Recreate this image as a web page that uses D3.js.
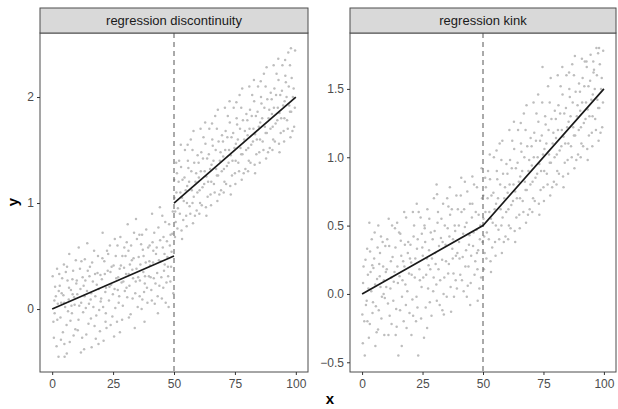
<!DOCTYPE html>
<html>
<head>
<meta charset="utf-8">
<script src="https://d3js.org/d3.v7.min.js"></script>
<style>
  body { margin: 0; background: #fff; }
  svg text { font-family: "Liberation Sans", Arial, sans-serif; }
</style>
</head>
<body>
<svg width="618" height="409"></svg>
<script>
// Facet titles
var panelTitles = ["regression discontinuity", "regression kink"];

// Tick labels
var xTicks = [0, 25, 50, 75, 100];
var yTicksRD = [0, 1, 2];
var yTicksKink = [-0.5, 0, 0.5, 1, 1.5];

// Cutoff
var cutoff = 50;

// Fitted lines (x, y)
var fitRD = [
    [[0, 0], [50, 0.5]],
    [[50, 1], [100, 2]]
];
var fitKink = [
    [[0, 0], [50, 0.5], [100, 1.5]]
];

// Scatter points, regression discontinuity (x, y)
var pointsRD = [
[0.5,-0.12],[1.2,0.21],[1.8,-0.35],[2.3,0.05],[2.9,0.33],[3.4,-0.08],[3.9,0.15],[4.4,-0.22],[4.8,0.42],[5.3,0.02],[5.9,-0.15],[6.3,0.27],[6.8,0.09],[7.2,-0.31],[7.7,0.18],[8.1,-0.04],[8.6,0.36],[9.0,0.11],[9.5,-0.19],[9.9,0.24],[0.9,0.08],[2.6,-0.45],[4.1,0.29],[6.0,-0.42],[7.9,0.03],
[10.3,0.14],[10.8,-0.1],[11.4,0.38],[11.9,0.06],[12.3,-0.27],[12.9,0.22],[13.4,0.47],[13.8,0.01],[14.3,0.17],[14.9,-0.14],[15.3,0.31],[15.8,0.09],[16.2,-0.36],[16.7,0.26],[17.2,0.55],[17.7,0.12],[18.1,-0.06],[18.6,0.34],[19.1,0.19],[19.6,-0.21],[11.1,0.03],[13.1,-0.38],[15.5,0.4],[17.9,-0.28],[19.9,0.07],
[20.4,0.28],[20.9,0.02],[21.4,0.45],[21.8,0.16],[22.3,-0.18],[22.8,0.36],[23.3,0.08],[23.7,0.6],[24.2,0.23],[24.7,-0.07],[25.2,0.41],[25.6,0.19],[26.1,0.5],[26.6,-0.12],[27.1,0.3],[27.5,0.12],[28.0,0.68],[28.5,0.25],[29.0,0.03],[29.5,0.39],[21.1,-0.3],[23.0,0.52],[25.9,0.01],[27.8,-0.22],[29.8,0.17],
[30.3,0.33],[30.8,0.11],[31.3,0.55],[31.7,0.22],[32.2,-0.05],[32.7,0.46],[33.2,0.29],[33.6,0.72],[34.1,0.15],[34.6,0.38],[35.1,0.02],[35.5,0.49],[36.0,0.27],[36.5,0.61],[37.0,0.09],[37.4,0.35],[37.9,-0.12],[38.4,0.44],[38.9,0.2],[39.4,0.58],[31.0,0.8],[33.9,-0.18],[35.8,0.7],[37.7,0.16],[39.7,0.31],
[40.2,0.41],[40.7,0.18],[41.2,0.63],[41.7,0.29],[42.1,0.05],[42.6,0.52],[43.1,0.34],[43.6,0.77],[44.0,0.22],[44.5,0.45],[45.0,0.1],[45.4,0.58],[45.9,0.36],[46.4,0.82],[46.9,0.25],[47.3,0.49],[47.8,0.02],[48.3,0.6],[48.8,0.4],[49.3,0.71],[41.0,0.9],[43.4,-0.04],[45.7,0.68],[47.6,0.31],[49.7,0.15],
[50.2,1.05],[50.7,0.82],[51.2,1.28],[51.6,0.95],[52.1,1.4],[52.6,1.1],[53.1,0.74],[53.5,1.22],[54.0,1.02],[54.5,1.5],[55.0,0.88],[55.4,1.16],[55.9,1.33],[56.4,0.97],[56.9,1.6],[57.3,1.12],[57.8,0.81],[58.3,1.38],[58.8,1.2],[59.3,0.93],[50.9,1.38],[53.3,0.66],[55.6,1.55],[57.6,1.0],[59.7,1.45],
[60.2,1.24],[60.7,1.0],[61.2,1.48],[61.7,1.15],[62.1,1.62],[62.6,1.3],[63.1,0.96],[63.6,1.42],[64.0,1.2],[64.5,1.7],[65.0,1.08],[65.4,1.36],[65.9,1.54],[66.4,1.18],[66.9,1.82],[67.3,1.32],[67.8,1.02],[68.3,1.58],[68.8,1.4],[69.3,1.12],[60.9,1.7],[63.3,0.88],[65.6,1.75],[67.6,1.26],[69.7,1.64],
[70.2,1.44],[70.7,1.2],[71.2,1.68],[71.7,1.35],[72.1,1.82],[72.6,1.5],[73.1,1.16],[73.6,1.62],[74.0,1.4],[74.5,1.9],[75.0,1.28],[75.4,1.56],[75.9,1.74],[76.4,1.38],[76.9,2.02],[77.3,1.52],[77.8,1.22],[78.3,1.78],[78.8,1.6],[79.3,1.32],[70.9,1.9],[73.3,1.08],[75.6,1.95],[77.6,1.46],[79.7,1.84],
[80.2,1.64],[80.7,1.4],[81.2,1.88],[81.7,1.55],[82.1,2.02],[82.6,1.7],[83.1,1.36],[83.6,1.82],[84.0,1.6],[84.5,2.1],[85.0,1.48],[85.4,1.76],[85.9,1.94],[86.4,1.58],[86.9,2.22],[87.3,1.72],[87.8,1.42],[88.3,1.98],[88.8,1.8],[89.3,1.52],[80.9,2.1],[83.3,1.28],[85.6,2.15],[87.6,1.66],[89.7,2.04],
[90.2,1.84],[90.7,1.6],[91.2,2.08],[91.7,1.75],[92.1,2.22],[92.6,1.9],[93.1,1.56],[93.6,2.02],[94.0,1.8],[94.5,2.3],[95.0,1.68],[95.4,1.96],[95.9,2.14],[96.4,1.78],[96.9,2.42],[97.3,1.92],[97.8,1.62],[98.3,2.18],[98.8,2.0],[99.3,1.72],[90.9,2.3],[93.3,1.48],[95.6,2.35],[97.6,1.86],[99.7,2.44],
[0.2,0.31],[0.7,-0.27],[1.5,0.12],[2.0,0.38],[2.1,-0.1],[3.1,0.22],[3.6,-0.29],[3.7,0.06],[4.6,0.13],[5.0,-0.33],[5.6,0.35],[6.5,-0.02],[6.9,0.2],[7.5,-0.11],[8.3,0.28],[8.8,-0.25],[9.2,0.04],[9.7,0.46],[1.0,-0.04],[2.7,0.17],[4.9,0.06],[6.1,0.4],[8.4,0.14],[5.1,-0.45],[7.0,0.52],
[10.1,0.27],[10.5,-0.2],[11.6,0.19],[12.0,0.45],[12.7,-0.03],[13.3,0.12],[14.0,-0.24],[14.6,0.36],[15.1,0.05],[15.9,-0.09],[16.4,0.44],[16.9,0.02],[17.4,-0.16],[18.3,0.23],[18.8,0.5],[19.3,-0.01],[19.8,0.32],[10.9,0.58],[12.5,0.3],[14.4,0.62],[16.0,0.15],[17.6,0.33],[19.0,-0.33],[13.6,0.27],[11.8,-0.41],
[20.1,0.1],[20.6,0.48],[21.6,0.33],[22.0,-0.04],[22.5,0.55],[23.5,0.21],[24.0,-0.15],[24.4,0.4],[24.9,0.14],[25.4,-0.26],[26.3,0.29],[26.8,0.6],[27.3,0.06],[28.2,0.41],[28.7,-0.1],[29.2,0.26],[29.6,0.58],[20.7,0.72],[22.1,0.2],[23.9,0.35],[25.7,0.66],[26.9,0.18],[28.8,0.5],[21.9,-0.12],[27.7,0.38],
[30.1,0.5],[30.5,0.2],[31.5,-0.08],[31.9,0.42],[32.4,0.6],[33.0,0.1],[33.4,0.48],[34.3,0.26],[34.8,0.66],[35.3,0.3],[35.9,0.12],[36.2,0.42],[36.7,0.0],[37.2,0.56],[38.1,0.31],[38.6,0.75],[39.1,0.06],[39.9,0.45],[30.6,0.63],[32.9,0.37],[34.4,0.85],[36.9,0.7],[38.0,0.24],[31.4,0.33],[37.5,0.5],
[40.0,0.6],[40.4,0.3],[40.9,0.08],[41.4,0.44],[41.9,0.72],[42.4,0.24],[42.9,0.58],[43.3,0.12],[43.8,0.46],[44.3,0.65],[44.8,0.3],[45.2,0.88],[45.6,0.2],[46.1,0.52],[46.6,0.06],[47.1,0.64],[47.5,0.4],[48.0,0.8],[48.5,0.26],[49.0,0.54],[49.5,0.92],[41.5,0.55],[44.2,0.96],[46.2,0.42],[48.6,0.7],
[50.1,1.22],[50.5,0.92],[51.0,1.1],[51.4,0.76],[51.9,1.2],[52.4,0.9],[52.9,1.34],[53.3,1.05],[53.8,0.84],[54.3,1.24],[54.8,1.12],[55.2,0.78],[55.7,1.4],[56.2,1.2],[56.7,0.9],[57.1,1.3],[57.6,1.5],[58.1,1.06],[58.6,0.88],[59.1,1.28],[59.6,1.1],[50.4,0.68],[52.8,1.55],[55.3,1.0],[58.0,1.68],
[60.1,1.38],[60.5,1.12],[61.0,1.3],[61.4,0.98],[61.9,1.42],[62.4,1.18],[62.9,1.56],[63.3,1.25],[63.8,1.06],[64.3,1.46],[64.8,1.32],[65.2,0.98],[65.7,1.6],[66.2,1.4],[66.7,1.1],[67.1,1.5],[67.6,1.7],[68.1,1.26],[68.6,1.08],[69.1,1.48],[69.6,1.3],[60.4,0.9],[62.8,1.76],[65.3,1.2],[68.0,1.88],
[70.1,1.58],[70.5,1.32],[71.0,1.5],[71.4,1.18],[71.9,1.62],[72.4,1.38],[72.9,1.76],[73.3,1.45],[73.8,1.26],[74.3,1.66],[74.8,1.52],[75.2,1.18],[75.7,1.8],[76.2,1.6],[76.7,1.3],[77.1,1.7],[77.6,1.9],[78.1,1.46],[78.6,1.28],[79.1,1.68],[79.6,1.5],[70.4,1.1],[72.8,1.96],[75.3,1.4],[78.0,2.08],
[80.1,1.78],[80.5,1.52],[81.0,1.7],[81.4,1.38],[81.9,1.82],[82.4,1.58],[82.9,1.96],[83.3,1.65],[83.8,1.46],[84.3,1.86],[84.8,1.72],[85.2,1.38],[85.7,2.0],[86.2,1.8],[86.7,1.5],[87.1,1.9],[87.6,2.1],[88.1,1.66],[88.6,1.48],[89.1,1.88],[89.6,1.7],[80.4,1.3],[82.8,2.16],[85.3,1.6],[88.0,2.28],
[90.1,1.98],[90.5,1.72],[91.0,1.9],[91.4,1.58],[91.9,2.02],[92.4,1.78],[92.9,2.16],[93.3,1.85],[93.8,1.66],[94.3,2.06],[94.8,1.92],[95.2,1.58],[95.7,2.2],[96.2,2.0],[96.7,1.7],[97.1,2.1],[97.6,2.3],[98.1,1.86],[98.6,1.68],[99.1,2.08],[99.6,1.9],[90.4,1.5],[92.8,2.36],[95.3,1.8],[98.0,2.46]
];

// Scatter points, regression kink (x, y)
var pointsKink = [
[0.4,0.08],[0.9,-0.2],[1.4,0.25],[1.9,-0.05],[2.4,0.14],[2.8,-0.32],[3.3,0.31],[3.8,0.02],[4.3,-0.14],[4.7,0.19],[5.2,0.45],[5.7,-0.09],[6.2,0.11],[6.6,-0.26],[7.1,0.22],[7.6,0.05],[8.0,-0.18],[8.5,0.38],[9.0,0.1],[9.4,-0.03],[1.1,-0.45],[3.0,0.52],[5.5,-0.38],[7.4,0.3],[9.8,0.16],
[10.2,0.18],[10.7,-0.07],[11.2,0.35],[11.7,0.04],[12.2,-0.22],[12.6,0.27],[13.1,0.09],[13.6,0.48],[14.1,-0.11],[14.6,0.2],[15.0,-0.45],[15.5,0.13],[16.0,0.39],[16.5,-0.02],[17.0,0.24],[17.4,0.6],[17.9,0.07],[18.4,-0.25],[18.9,0.3],[19.4,0.15],[11.0,0.55],[13.9,-0.3],[15.8,0.44],[18.1,-0.08],[19.8,0.26],
[20.3,0.23],[20.8,-0.04],[21.3,0.42],[21.8,0.12],[22.3,-0.2],[22.7,0.33],[23.2,-0.45],[23.7,0.18],[24.2,0.56],[24.6,0.05],[25.1,0.28],[25.6,-0.32],[26.1,0.38],[26.5,0.14],[27.0,0.62],[27.5,0.21],[28.0,-0.06],[28.4,0.45],[28.9,0.26],[29.4,0.02],[21.0,0.6],[22.9,-0.1],[25.8,0.5],[27.7,0.32],[29.7,0.7],
[30.2,0.3],[30.7,0.07],[31.2,0.52],[31.6,0.18],[32.1,-0.08],[32.6,0.41],[33.1,0.25],[33.5,0.66],[34.0,0.12],[34.5,0.36],[35.0,-0.02],[35.4,0.48],[35.9,0.22],[36.4,0.58],[36.8,-0.13],[37.3,0.33],[37.8,0.15],[38.3,0.5],[38.8,0.28],[39.2,0.04],[31.0,0.73],[33.8,-0.15],[35.7,0.64],[37.6,0.4],[39.6,0.62],
[40.1,0.38],[40.6,0.14],[41.1,0.6],[41.6,0.27],[42.0,0.02],[42.5,0.49],[43.0,0.32],[43.5,0.75],[44.0,0.2],[44.4,0.43],[44.9,0.08],[45.4,0.56],[45.9,0.35],[46.3,0.8],[46.8,0.24],[47.3,0.47],[47.8,-0.05],[48.2,0.58],[48.7,0.4],[49.2,0.12],[41.0,0.85],[43.3,-0.02],[45.6,0.66],[47.5,0.3],[49.6,0.7],
[50.2,0.55],[50.7,0.3],[51.2,0.78],[51.6,0.45],[52.1,0.9],[52.6,0.6],[53.1,0.24],[53.5,0.72],[54.0,0.52],[54.5,1.0],[55.0,0.38],[55.4,0.66],[55.9,0.84],[56.4,0.47],[56.9,1.1],[57.3,0.62],[57.8,0.3],[58.3,0.88],[58.8,0.7],[59.3,0.42],[50.9,0.85],[53.3,0.16],[55.6,1.05],[57.6,0.5],[59.7,0.95],
[60.2,0.74],[60.7,0.5],[61.2,0.98],[61.7,0.65],[62.1,1.12],[62.6,0.8],[63.1,0.46],[63.6,0.92],[64.0,0.7],[64.5,1.2],[65.0,0.58],[65.4,0.86],[65.9,1.04],[66.4,0.68],[66.9,1.32],[67.3,0.82],[67.8,0.52],[68.3,1.08],[68.8,0.9],[69.3,0.62],[60.9,1.2],[63.3,0.38],[65.6,1.25],[67.6,0.76],[69.7,1.14],
[70.2,0.94],[70.7,0.7],[71.2,1.18],[71.7,0.85],[72.1,1.32],[72.6,1.0],[73.1,0.66],[73.6,1.12],[74.0,0.9],[74.5,1.4],[75.0,0.78],[75.4,1.06],[75.9,1.24],[76.4,0.88],[76.9,1.52],[77.3,1.02],[77.8,0.72],[78.3,1.28],[78.8,1.1],[79.3,0.82],[70.9,1.4],[73.3,0.58],[74.6,1.66],[77.6,0.96],[79.7,1.34],
[80.2,1.14],[80.7,0.9],[81.2,1.38],[81.7,1.05],[82.1,1.52],[82.6,1.2],[83.1,0.86],[83.6,1.32],[84.0,1.1],[84.5,1.6],[85.0,0.98],[85.4,1.26],[85.9,1.44],[86.4,1.08],[86.9,1.68],[87.3,1.22],[87.8,0.92],[88.3,1.48],[88.8,1.3],[89.3,1.02],[80.9,1.6],[83.3,0.78],[85.6,1.62],[87.6,1.16],[89.7,1.54],
[90.2,1.34],[90.7,1.1],[91.2,1.58],[91.7,1.25],[92.1,1.7],[92.6,1.4],[93.1,1.06],[93.6,1.52],[94.0,1.3],[94.5,1.75],[95.0,1.18],[95.4,1.46],[95.9,1.64],[96.4,1.28],[96.9,1.8],[97.3,1.42],[97.8,1.12],[98.3,1.68],[98.8,1.5],[99.3,1.22],[90.9,1.72],[93.3,0.98],[95.6,1.7],[97.6,1.36],[99.7,1.78],
[0.1,-0.15],[0.6,0.2],[1.6,-0.08],[2.1,0.33],[2.6,0.04],[3.2,-0.22],[3.5,0.16],[4.0,0.4],[4.5,-0.06],[5.0,0.26],[5.4,0.07],[6.0,-0.28],[6.4,0.34],[6.9,-0.12],[7.3,0.13],[7.8,0.42],[8.2,-0.02],[8.7,0.2],[9.2,-0.3],[9.6,0.35],[0.3,-0.36],[2.2,-0.2],[4.2,0.21],[6.7,0.5],[8.9,0.0],
[10.0,0.05],[10.4,0.4],[11.4,-0.16],[11.9,0.24],[12.4,0.5],[12.9,-0.05],[13.4,0.16],[13.8,0.34],[14.3,-0.24],[14.8,0.08],[15.3,0.45],[15.7,-0.12],[16.2,0.28],[16.7,0.1],[17.2,-0.2],[17.7,0.36],[18.2,0.56],[18.7,0.02],[19.1,0.38],[19.6,-0.14],[10.9,-0.3],[12.1,0.12],[14.5,0.52],[16.4,-0.38],[17.5,0.2],
[20.0,0.36],[20.5,0.14],[21.1,-0.16],[21.5,0.5],[22.0,0.26],[22.5,-0.02],[23.0,0.4],[23.4,0.6],[23.9,0.1],[24.4,-0.18],[24.9,0.34],[25.3,0.12],[25.9,0.48],[26.3,-0.1],[26.8,0.26],[27.3,0.04],[27.8,0.55],[28.2,0.18],[28.7,-0.16],[29.2,0.4],[29.6,0.12],[20.4,-0.3],[22.6,0.66],[24.7,0.44],[26.9,-0.25],
[30.0,0.46],[30.4,0.22],[30.9,-0.05],[31.4,0.6],[31.8,0.35],[32.3,0.1],[32.8,0.55],[33.3,0.38],[33.7,0.0],[34.2,0.5],[34.7,0.24],[35.2,0.7],[35.6,0.15],[36.1,0.42],[36.6,0.05],[37.1,0.62],[37.5,0.26],[38.0,-0.02],[38.5,0.46],[39.0,0.72],[39.4,0.3],[30.8,0.8],[33.2,-0.12],[36.3,0.78],[38.7,0.1],
[40.0,0.5],[40.3,0.26],[40.8,0.72],[41.3,0.1],[41.8,0.44],[42.2,0.62],[42.7,0.2],[43.2,0.52],[43.7,0.06],[44.2,0.36],[44.6,0.66],[45.1,0.28],[45.6,0.86],[46.1,0.45],[46.5,0.14],[47.0,0.6],[47.5,0.78],[48.0,0.32],[48.5,0.04],[48.9,0.5],[49.4,0.92],[49.8,0.38],[42.5,0.82],[44.7,-0.08],[47.7,0.18],
[50.1,0.72],[50.5,0.42],[51.0,0.6],[51.4,0.26],[51.9,0.7],[52.4,0.4],[52.9,0.84],[53.3,0.55],[53.8,0.34],[54.3,0.74],[54.8,0.62],[55.2,0.28],[55.7,0.9],[56.2,0.7],[56.7,0.4],[57.1,0.8],[57.6,0.98],[58.1,0.56],[58.6,0.38],[59.1,0.78],[59.6,0.6],[50.4,0.18],[52.8,1.02],[55.3,0.5],[58.0,1.12],
[60.1,0.88],[60.5,0.62],[61.0,0.8],[61.4,0.48],[61.9,0.92],[62.4,0.68],[62.9,1.06],[63.3,0.75],[63.8,0.56],[64.3,0.96],[64.8,0.82],[65.2,0.48],[65.7,1.1],[66.2,0.9],[66.7,0.6],[67.1,1.0],[67.6,1.2],[68.1,0.76],[68.6,0.58],[69.1,0.98],[69.6,0.8],[60.4,0.4],[62.8,1.26],[65.3,0.7],[68.0,1.38],
[70.1,1.08],[70.5,0.82],[71.0,1.0],[71.4,0.68],[71.9,1.12],[72.4,0.88],[72.9,1.26],[73.3,0.95],[73.8,0.76],[74.3,1.16],[74.8,1.02],[75.2,0.68],[75.7,1.3],[76.2,1.1],[76.7,0.8],[77.1,1.2],[77.6,1.4],[78.1,0.96],[78.6,0.78],[79.1,1.18],[79.6,1.0],[70.4,0.6],[72.8,1.46],[75.3,0.9],[78.0,1.58],
[80.1,1.28],[80.5,1.02],[81.0,1.2],[81.4,0.88],[81.9,1.32],[82.4,1.08],[82.9,1.46],[83.3,1.15],[83.8,0.96],[84.3,1.36],[84.8,1.22],[85.2,0.88],[85.7,1.5],[86.2,1.3],[86.7,1.0],[87.1,1.4],[87.6,1.6],[88.1,1.16],[88.6,0.98],[89.1,1.38],[89.6,1.2],[80.4,0.8],[82.8,1.66],[85.3,1.1],[88.0,1.74],
[90.1,1.48],[90.5,1.22],[91.0,1.4],[91.4,1.08],[91.9,1.52],[92.4,1.28],[92.9,1.66],[93.3,1.35],[93.8,1.16],[94.3,1.56],[94.8,1.42],[95.2,1.08],[95.7,1.62],[96.2,1.5],[96.7,1.2],[97.1,1.6],[97.6,1.76],[98.1,1.36],[98.6,1.18],[99.1,1.58],[99.6,1.4],[90.4,1.0],[92.8,1.7],[95.3,1.3],[98.0,1.8]
];

// SVG settings
var svg = d3.select("svg");
var stripTop = 8, panelTop = 33, panelBottom = 372;

var panels = [
    {title: panelTitles[0], left: 40, right: 308, yDomain: [-0.594, 2.604],
     yTicks: yTicksRD, yFormat: d3.format("d"), points: pointsRD, fit: fitRD},
    {title: panelTitles[1], left: 350, right: 616, yDomain: [-0.571, 1.909],
     yTicks: yTicksKink, yFormat: d3.format(".1f"), points: pointsKink, fit: fitKink}
];

function drawPanel(p) {
    var xScale = d3.scaleLinear().domain([-5, 105]).range([p.left, p.right]);
    var yScale = d3.scaleLinear().domain(p.yDomain).range([panelBottom, panelTop]);
    var g = svg.append("g");

    // points
    g.selectAll(".pt")
        .data(p.points)
        .enter().append("circle")
        .attr("class", "pt")
        .attr("cx", function(d) { return xScale(d[0]); })
        .attr("cy", function(d) { return yScale(d[1]); })
        .attr("r", 1.25)
        .attr("fill", "#bdbdbd");

    // cutoff
    g.append("line")
        .attr("x1", xScale(cutoff)).attr("x2", xScale(cutoff))
        .attr("y1", panelTop).attr("y2", panelBottom)
        .attr("stroke", "#555").attr("stroke-width", 1)
        .attr("stroke-dasharray", "5,4");

    // fitted lines
    var line = d3.line()
        .x(function(d) { return xScale(d[0]); })
        .y(function(d) { return yScale(d[1]); });
    g.selectAll(".fit")
        .data(p.fit)
        .enter().append("path")
        .attr("class", "fit")
        .attr("d", line)
        .attr("fill", "none")
        .attr("stroke", "#1a1a1a")
        .attr("stroke-width", 1.7);

    // panel border
    g.append("rect")
        .attr("x", p.left).attr("y", panelTop)
        .attr("width", p.right - p.left).attr("height", panelBottom - panelTop)
        .attr("fill", "none").attr("stroke", "#4d4d4d").attr("stroke-width", 1);

    // strip
    g.append("rect")
        .attr("x", p.left).attr("y", stripTop)
        .attr("width", p.right - p.left).attr("height", panelTop - stripTop)
        .attr("fill", "#d9d9d9").attr("stroke", "#4d4d4d").attr("stroke-width", 1);
    g.append("text")
        .attr("x", (p.left + p.right) / 2).attr("y", (stripTop + panelTop) / 2)
        .attr("dy", "0.35em")
        .attr("text-anchor", "middle")
        .attr("font-size", 13)
        .attr("fill", "#1a1a1a")
        .text(p.title);

    // axes
    var xAxis = g.append("g")
        .attr("transform", "translate(0," + panelBottom + ")")
        .call(d3.axisBottom(xScale).tickValues(xTicks).tickSize(3).tickPadding(4));
    var yAxis = g.append("g")
        .attr("transform", "translate(" + p.left + ",0)")
        .call(d3.axisLeft(yScale).tickValues(p.yTicks).tickFormat(p.yFormat).tickSize(3).tickPadding(3));
    [xAxis, yAxis].forEach(function(a) {
        a.select(".domain").remove();
        a.selectAll(".tick line").attr("stroke", "#333");
        a.selectAll(".tick text")
            .attr("fill", "#4d4d4d")
            .attr("font-size", 12)
            .attr("font-family", "Liberation Sans, Arial, sans-serif");
    });
}

panels.forEach(drawPanel);

// Axis titles
svg.append("text")
    .attr("x", 330).attr("y", 404)
    .attr("text-anchor", "middle")
    .attr("font-size", 15).attr("font-weight", "bold")
    .text("x");
svg.append("text")
    .attr("transform", "translate(18,202) rotate(-90)")
    .attr("text-anchor", "middle")
    .attr("font-size", 15).attr("font-weight", "bold")
    .text("y");
</script>
</body>
</html>
